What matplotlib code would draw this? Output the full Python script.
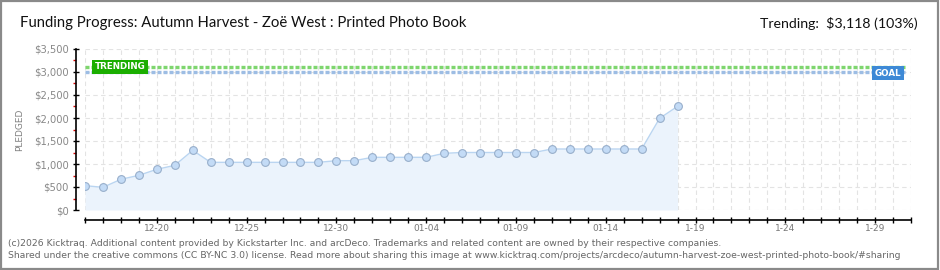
import matplotlib
matplotlib.use('Agg')
import matplotlib.pyplot as plt
import numpy as np
from matplotlib.patches import Rectangle

# ---- data ----
pledged = [529, 493, 667, 754, 884, 971, 1297, 1036, 1036, 1036, 1036, 1036, 1036, 1036,
           1072, 1072, 1145, 1145, 1145, 1145, 1232, 1250, 1250, 1250, 1250, 1250,
           1326, 1326, 1326, 1326, 1326, 1326, 1993, 2254]
n_days = 47  # 12-16 .. 01-31
tick_label_days = [4, 9, 14, 19, 24, 29, 34, 39, 44]
tick_labels = ['12-20', '12-25', '12-30', '01-04', '01-09', '01-14', '1-19', '1-24', '1-29']
y_ticks = [0, 500, 1000, 1500, 2000, 2500, 3000, 3500]
y_tick_labels = ['$0', '$500', '$1,000', '$1,500', '$2,000', '$2,500', '$3,000', '$3,500']
goal = 3000
trending = 3118
title = 'Funding Progress: Autumn Harvest - Zoë West : Printed Photo Book'
trend_text = 'Trending:  $3,118 (103%)'
footer1 = ('(c)2026 Kicktraq. Additional content provided by Kickstarter Inc. and arcDeco. '
           'Trademarks and related content are owned by their respective companies.')
footer2 = ('Shared under the creative commons (CC BY-NC 3.0) license. Read more about sharing '
           'this image at www.kicktraq.com/projects/arcdeco/autumn-harvest-zoe-west-printed-photo-book/#sharing')

W, H = 940, 270
PT = 0.72  # points per pixel at 100 dpi
fig = plt.figure(figsize=(W / 100, H / 100), dpi=100)
fig.patch.set_facecolor('white')
fig.patches.append(Rectangle((0.001, 0.002), 0.997, 0.995, transform=fig.transFigure,
                             fill=False, ec='#8a8a8a', lw=1.6))

ax = fig.add_axes([85 / W, 60 / H, 826 / W, 161 / H])
ax.set_xlim(0, n_days - 1)
ax.set_ylim(0, 3500)

x = np.arange(len(pledged))
ax.fill_between(x, pledged, 0, color='#EBF3FC', zorder=1, lw=0)
ax.plot(x, pledged, color='#BAD5F1', lw=1.0, marker='o', ms=5.6, mfc='#C3DBF6',
        mec='#98AFCB', mew=0.8, zorder=5)

# goal / trending lines
ax.axhline(trending, xmin=0, xmax=0.993, color='#7ED66E', lw=2.4, ls=(0, (1.2, 0.6)), zorder=3)
ax.axhline(goal, xmin=0, xmax=0.993, color='#9DBDE4', lw=2.4, ls=(0, (1.2, 0.6)), zorder=3)

ax.text(1.97, 3109, 'TRENDING', color='white', fontsize=6.3, fontweight='bold',
        ha='center', va='center', zorder=6,
        bbox=dict(boxstyle='square,pad=0.3', fc='#1BAE00', ec='none'))
ax.text(44.7, 2975, 'GOAL', color='white', fontsize=6.3, fontweight='bold',
        ha='center', va='center', zorder=6,
        bbox=dict(boxstyle='square,pad=0.3', fc='#3D89D6', ec='none'))

# ticks & grid
ax.set_xticks(range(n_days))
labels = [''] * n_days
for d, l in zip(tick_label_days, tick_labels):
    labels[d] = l
ax.set_xticklabels(labels)
ax.set_yticks(y_ticks)
ax.set_yticklabels(y_tick_labels)
ax.set_yticks([250, 750, 1250, 1750, 2250, 2750, 3250], minor=True)
ax.grid(True, which='major', color='#E3E3E3', lw=0.8, ls=(0, (4, 3)), zorder=0)
ax.set_axisbelow(True)

for s in ['top', 'right']:
    ax.spines[s].set_visible(False)
ax.spines['left'].set_position(('outward', 9 * PT))
ax.spines['bottom'].set_position(('outward', 10 * PT))
ax.spines['left'].set_bounds(0, 3500)
ax.spines['bottom'].set_bounds(0, n_days - 1)
ax.spines['left'].set_linewidth(1.2)
ax.spines['bottom'].set_linewidth(1.2)

ax.tick_params(axis='x', which='major', direction='inout', length=6 * PT, width=1.0,
               colors='black', labelcolor='#777777', labelsize=6.5, pad=1)
ax.tick_params(axis='y', which='major', direction='inout', length=6 * PT, width=1.0,
               colors='black', labelcolor='#888888', labelsize=7.2, pad=3)
ax.tick_params(axis='y', which='minor', direction='out', length=3 * PT, width=1.0, colors='#DD0000')

fig.text(20 / W, 1 - 130 / H, 'PLEDGED', rotation=90, color='#808080', fontsize=6.5,
         ha='center', va='center')

fig.text(20 / W, 1 - 23 / H, title, fontsize=10.7, color='#111111',
         family=['Lato', 'DejaVu Sans'], ha='left', va='center')
fig.text(918 / W, 1 - 23 / H, trend_text, fontsize=10.2, color='#111111',
         family=['Lato', 'DejaVu Sans'], ha='right', va='center')

fig.text(8 / W, 1 - 243 / H, footer1, fontsize=6.7, color='#666666', ha='left', va='center')
fig.text(8 / W, 1 - 256 / H, footer2, fontsize=6.7, color='#666666', ha='left', va='center')

fig.savefig('out.png', dpi=100)
